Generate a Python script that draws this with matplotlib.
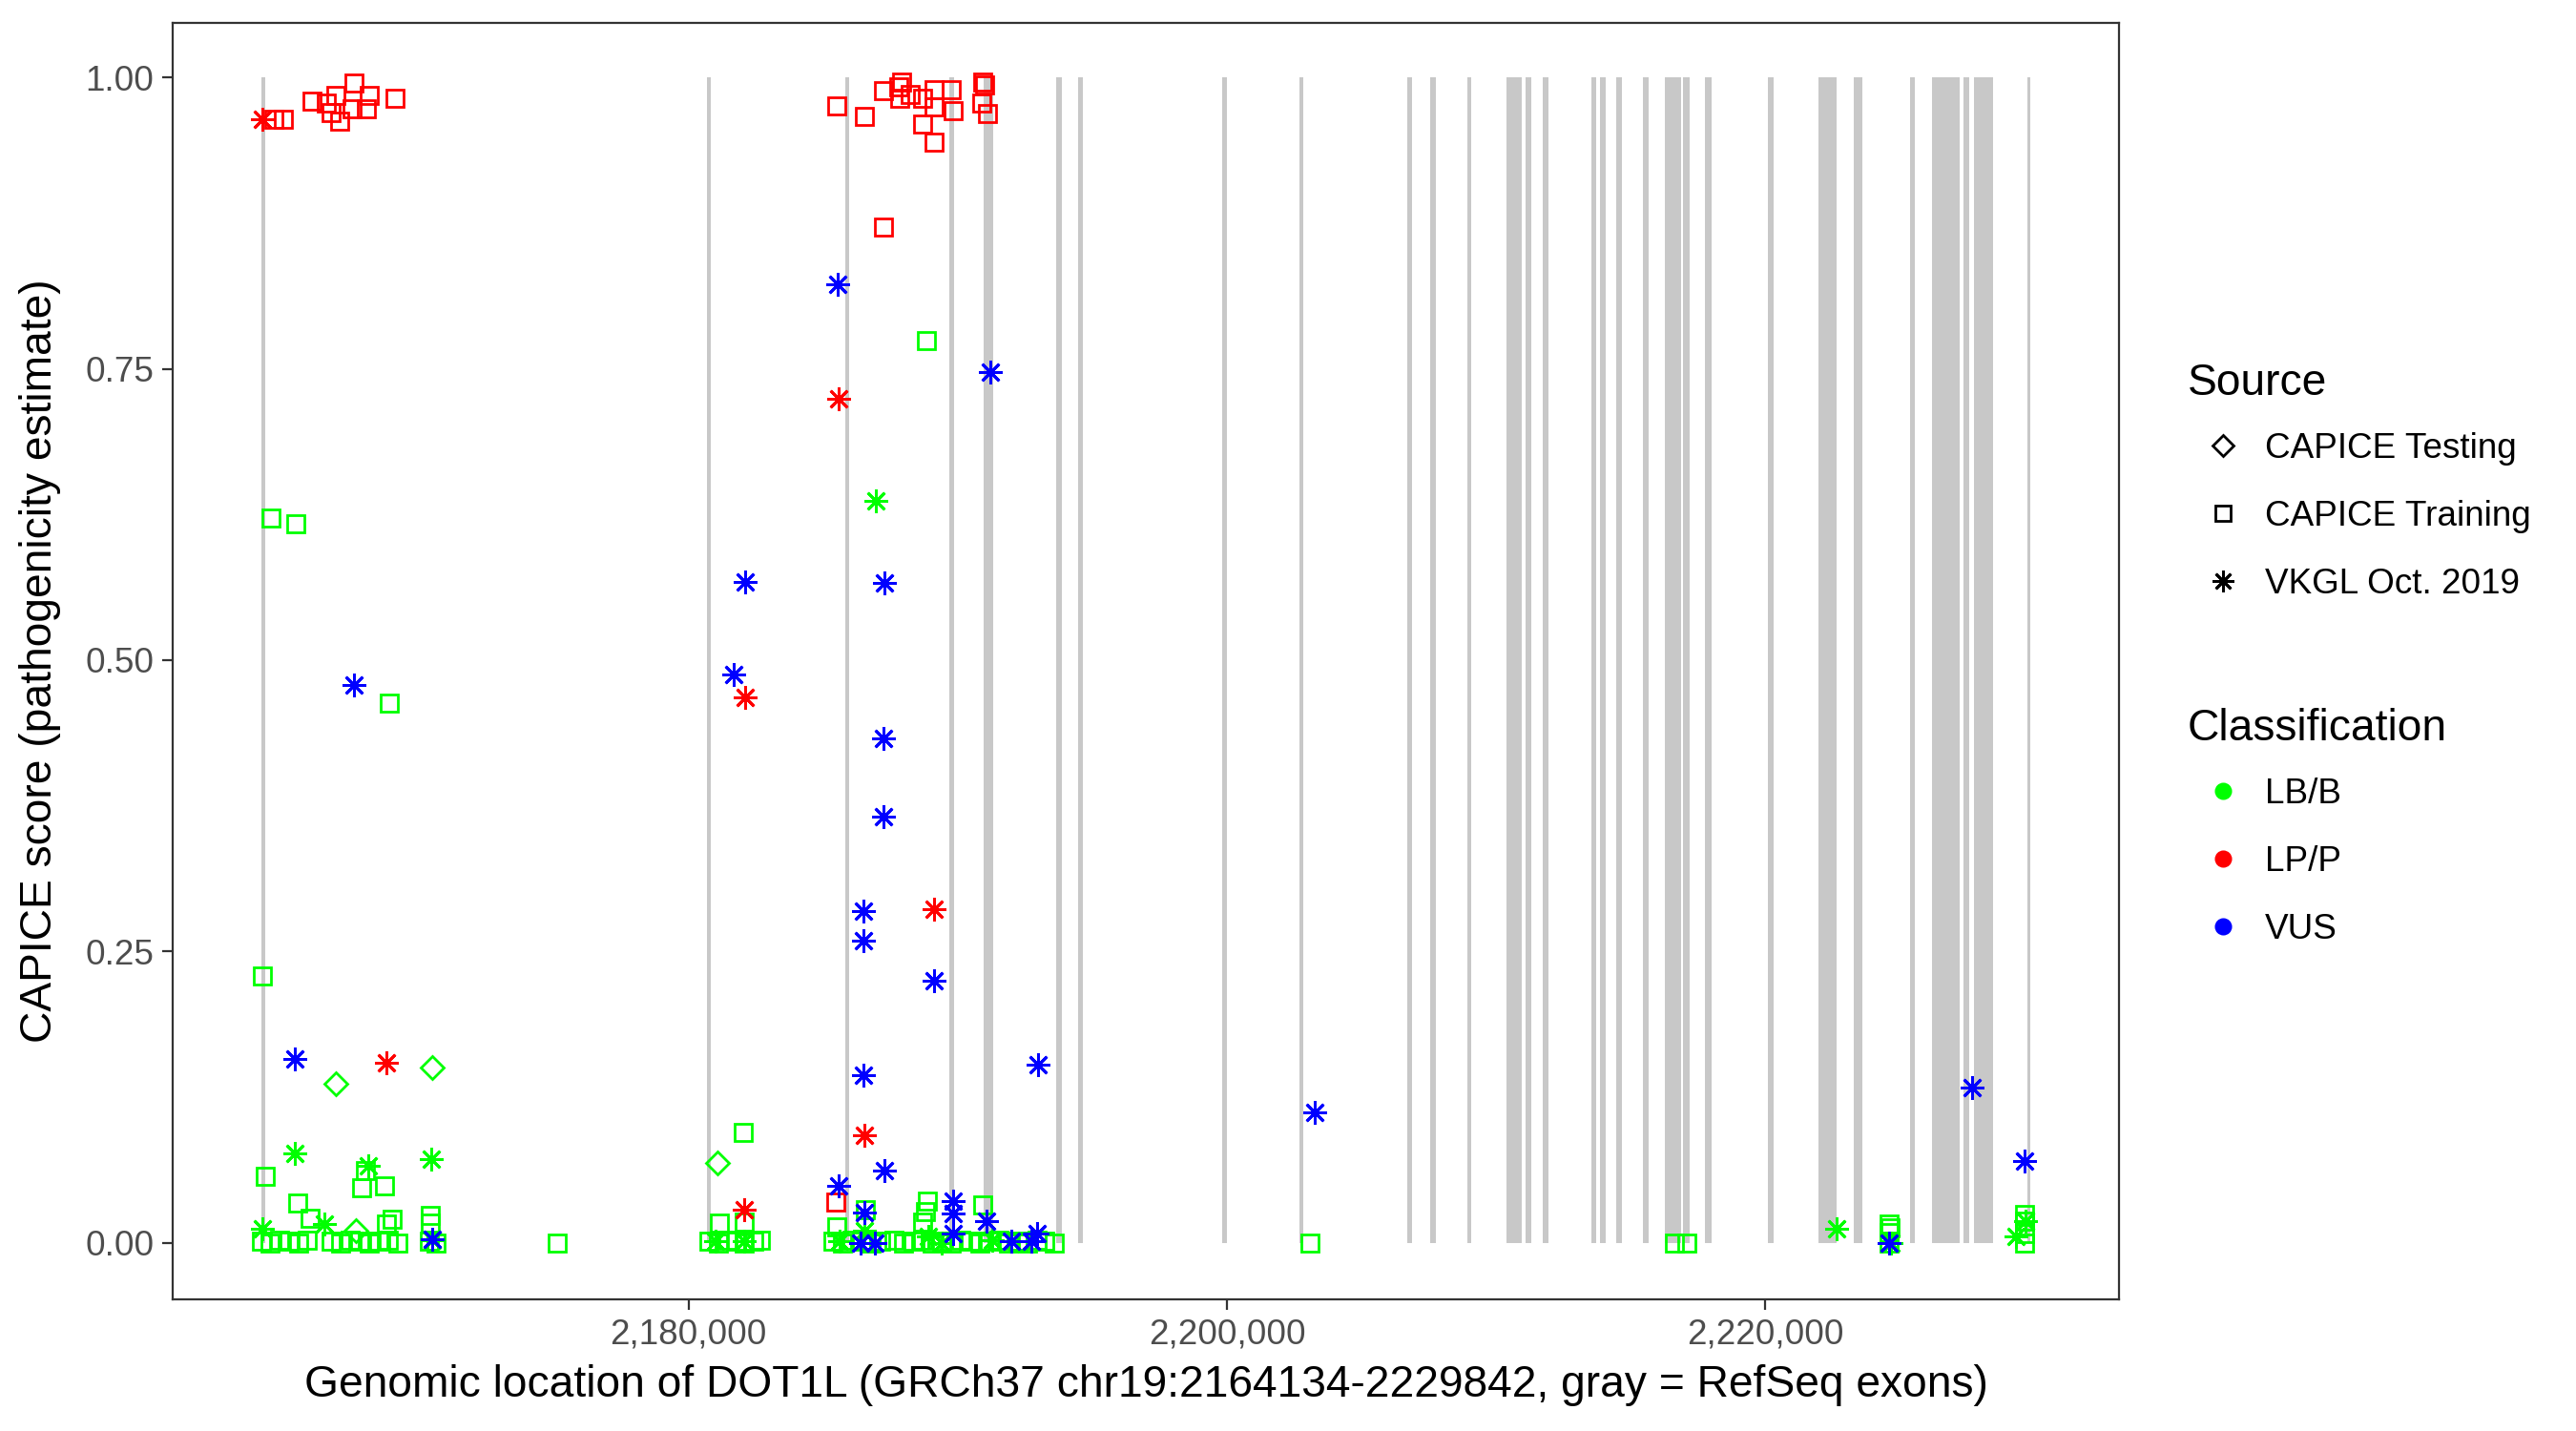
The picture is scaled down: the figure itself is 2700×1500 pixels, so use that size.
import matplotlib
matplotlib.use("Agg")
import matplotlib.pyplot as plt
from matplotlib.lines import Line2D

plt.rcParams["font.family"] = ["Liberation Sans", "DejaVu Sans"]

# gene bounds (GRCh37 chr19)
gene_start = 2164134
gene_end = 2229842

# RefSeq exons (start, end)
exon_start = [2164134, 2180679, 2185831, 2189682, 2190957, 2193661, 2194472, 2199840, 2202695,
              2206688, 2207553, 2208935, 2210377, 2211089, 2211719, 2213526, 2213852, 2214447,
              2215447, 2216254, 2216928, 2217753, 2220095, 2221959, 2223284, 2225378, 2226182,
              2227355, 2227737, 2229720]
exon_end = [2164280, 2180817, 2185983, 2189852, 2191308, 2193856, 2194642, 2199992, 2202851,
            2206880, 2207765, 2209069, 2210954, 2211298, 2211932, 2213718, 2214064, 2214660,
            2215659, 2216867, 2217176, 2218001, 2220308, 2222632, 2223592, 2225551, 2227202,
            2227567, 2228449, 2229842]

# CAPICE Training, LP/P
train_lp_pos = [2164594, 2164969, 2166011, 2166543, 2166897, 2167570, 2168137, 2169115, 2166720,
                2167039, 2167510, 2168041,
                2185519, 2186525, 2187244, 2187801, 2187918, 2187857, 2188236, 2188686, 2189133,
                2189133, 2189749, 2189841, 2190929, 2190989, 2190904, 2191106, 2188708, 2189140,
                2187244, 2185483]
train_lp_score = [0.964, 0.964, 0.980, 0.978, 0.985, 0.995, 0.985, 0.982, 0.970,
                  0.963, 0.973, 0.973,
                  0.976, 0.967, 0.989, 0.992, 0.996, 0.982, 0.9855, 0.982, 0.990,
                  0.975, 0.990, 0.972, 0.996, 0.994, 0.978, 0.969, 0.960, 0.945,
                  0.872, 0.035]

# CAPICE Training, LB/B
train_lb_pos = [2164509, 2165419, 2168902, 2164179, 2188828, 2164296, 2167995, 2167875, 2168725,
                2165480, 2165951, 2168998, 2168785, 2170415, 2170415, 2182025, 2181150, 2182072,
                2185498, 2188874, 2188803, 2188686, 2190929, 2186561, 2216616, 2217087,
                2224588, 2224588, 2224588, 2224610, 2229608, 2229608, 2229608, 2229608,
                2175127, 2203082,
                2164140, 2164474, 2164828, 2165182, 2165536, 2165834, 2166720, 2167074, 2167428,
                2167783, 2168137, 2168491, 2168846, 2169200, 2170380, 2170617,
                2180771, 2181126, 2181480, 2181778, 2182072, 2182426, 2182663,
                2185377, 2185731, 2186086, 2186440, 2186794, 2187149,
                2187623, 2187978, 2188332, 2188686, 2189041, 2189395, 2189749, 2190104, 2190458,
                2190812, 2191166, 2191521, 2191875, 2192229, 2192584, 2192938, 2193232, 2193586]
train_lb_score = [0.622, 0.617, 0.463, 0.229, 0.774, 0.0567, 0.0617, 0.047, 0.0486,
                  0.034, 0.021, 0.0199, 0.0158, 0.0234, 0.017, 0.0944, 0.017, 0.0177,
                  0.0133, 0.0355, 0.0265, 0.018, 0.032, 0.0284, 0.0, 0.0,
                  0.0163, 0.009, 0.0, 0.013, 0.024, 0.0186, 0.008, 0.0,
                  0.0, 0.0,
                  0.001, 0.0, 0.002, 0.001, 0.0, 0.002, 0.001, 0.0, 0.002,
                  0.001, 0.0, 0.001, 0.002, 0.0, 0.001, 0.0,
                  0.001, 0.0, 0.002, 0.001, 0.0, 0.001, 0.002,
                  0.001, 0.0, 0.002, 0.001, 0.0, 0.001,
                  0.002, 0.0, 0.001, 0.002, 0.0, 0.001, 0.0, 0.002, 0.001,
                  0.0, 0.001, 0.002, 0.0, 0.001, 0.0, 0.002, 0.001, 0.0]

# CAPICE Testing, LB/B
test_lb_pos = [2166897, 2170497, 2167662, 2181090]
test_lb_score = [0.136, 0.150, 0.0103, 0.0687]

# VKGL Oct. 2019
vkgl_lb_pos = [2165395, 2168112, 2170461, 2166482, 2164179, 2170486, 2186972, 2186536, 2191283,
               2182072, 2181009, 2185615, 2188920, 2189395, 2222639, 2224658, 2229665, 2229310]
vkgl_lb_score = [0.0767, 0.066, 0.0717, 0.0158, 0.0117, 0.002, 0.637, 0.0103, 0.002,
                 0.001, 0.001, 0.001, 0.005, 0.0, 0.0117, 0.0, 0.0186, 0.0054]

vkgl_lp_pos = [2164179, 2168775, 2185579, 2182107, 2186536, 2182072, 2189122]
vkgl_lp_score = [0.964, 0.154, 0.724, 0.468, 0.092, 0.028, 0.286]

vkgl_vus_pos = [2165395, 2167570, 2170497, 2185533, 2191223, 2182118, 2187269, 2181682, 2187244,
                2187255, 2186500, 2186500, 2189133, 2192973, 2186490, 2187280, 2185568, 2186525,
                2189820, 2189820, 2189820, 2191081, 2192938, 2192736, 2191992, 2186936, 2186383,
                2203259, 2227681, 2229629, 2224588]
vkgl_vus_score = [0.158, 0.479, 0.003, 0.823, 0.747, 0.567, 0.566, 0.488, 0.433,
                  0.366, 0.285, 0.259, 0.225, 0.153, 0.1435, 0.062, 0.049, 0.026,
                  0.0355, 0.025, 0.008, 0.0185, 0.008, 0.001, 0.001, 0.0, 0.0,
                  0.112, 0.133, 0.0704, 0.0]

col_lb = "#00FF00"
col_lp = "#FF0000"
col_vus = "#0000FF"
star = (8, 2, 0)

fig = plt.figure(figsize=(13.5, 7.5), dpi=200)
ax = fig.add_axes([181 / 2700, 1 - 1362 / 1500, (2221 - 181) / 2700, (1362 - 24) / 1500])

# exons
ax.bar(exon_start, [1] * len(exon_start), width=[e - s for s, e in zip(exon_start, exon_end)],
       bottom=0, align="edge", color="#C8C8C8", linewidth=0, zorder=1)

ms_sq = 6.4
ms_st = 9
mew = 1.0
ax.plot(train_lp_pos, train_lp_score, ls="none", marker="s", mfc="none", mec=col_lp, ms=ms_sq, mew=mew, zorder=3)
ax.plot(train_lb_pos, train_lb_score, ls="none", marker="s", mfc="none", mec=col_lb, ms=ms_sq, mew=mew, zorder=3)
ax.plot(test_lb_pos, test_lb_score, ls="none", marker="D", mfc="none", mec=col_lb, ms=ms_sq * 0.95, mew=mew, zorder=3)
ax.plot(vkgl_lb_pos, vkgl_lb_score, ls="none", marker=star, color=col_lb, mec=col_lb, ms=ms_st, mew=mew, zorder=3)
ax.plot(vkgl_lp_pos, vkgl_lp_score, ls="none", marker=star, color=col_lp, mec=col_lp, ms=ms_st, mew=mew, zorder=3)
ax.plot(vkgl_vus_pos, vkgl_vus_score, ls="none", marker=star, color=col_vus, mec=col_vus, ms=ms_st, mew=mew, zorder=3)

span = gene_end - gene_start
ax.set_xlim(gene_start - 0.05 * span, gene_end + 0.05 * span)
ax.set_ylim(-0.0487, 1.047)
ax.set_xticks([2180000, 2200000, 2220000])
ax.set_xticklabels(["2,180,000", "2,200,000", "2,220,000"])
ax.set_yticks([0, 0.25, 0.5, 0.75, 1.0])
ax.set_yticklabels(["0.00", "0.25", "0.50", "0.75", "1.00"])
ax.tick_params(axis="both", direction="out", length=4, width=0.8, color="#333333",
               labelcolor="#4D4D4D", labelsize=13.3, pad=3)
for sp in ax.spines.values():
    sp.set_color("#333333")
    sp.set_linewidth(0.8)

ax.set_xlabel("Genomic location of DOT1L (GRCh37 chr19:2164134-2229842, gray = RefSeq exons)",
              fontsize=16.6, labelpad=5)
ax.set_ylabel("CAPICE score (pathogenicity estimate)", fontsize=16.6, labelpad=9)

src_handles = [
    Line2D([], [], ls="none", marker="D", mfc="none", mec="black", ms=5.5, mew=mew),
    Line2D([], [], ls="none", marker="s", mfc="none", mec="black", ms=5.5, mew=mew),
    Line2D([], [], ls="none", marker=star, color="black", ms=8, mew=mew),
]
leg1 = fig.legend(src_handles, ["CAPICE Testing", "CAPICE Training", "VKGL Oct. 2019"],
                  title="Source", loc="upper left", bbox_to_anchor=(2278 / 2700, 1 - 365 / 1500),
                  frameon=False, fontsize=13.3, title_fontsize=16.6, alignment="left",
                  handlelength=2.0, handletextpad=0.2, labelspacing=0.98, borderaxespad=0)

cls_handles = [
    Line2D([], [], ls="none", marker="o", color=col_lb, ms=5.5),
    Line2D([], [], ls="none", marker="o", color=col_lp, ms=5.5),
    Line2D([], [], ls="none", marker="o", color=col_vus, ms=5.5),
]
leg2 = fig.legend(cls_handles, ["LB/B", "LP/P", "VUS"],
                  title="Classification", loc="upper left", bbox_to_anchor=(2278 / 2700, 1 - 727 / 1500),
                  frameon=False, fontsize=13.3, title_fontsize=16.6, alignment="left",
                  handlelength=2.0, handletextpad=0.2, labelspacing=0.98, borderaxespad=0)

# tighten the gap between legend titles and their first entry
for leg in (leg1, leg2):
    leg._legend_box.sep = 10.5

fig.savefig("out.png", dpi=200)
